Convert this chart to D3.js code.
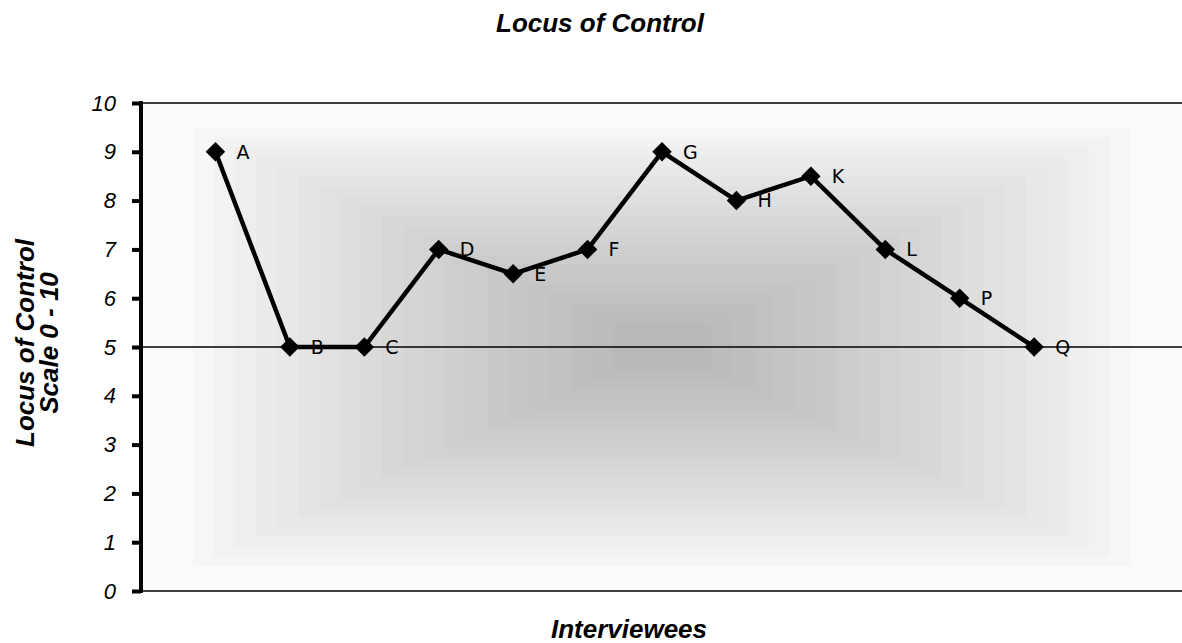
<!DOCTYPE html>
<html>
<head>
<meta charset="utf-8">
<script src="https://cdn.jsdelivr.net/npm/d3@7"></script>
<style>
  body { margin: 0; background: #fff; }
  svg { display: block; }
</style>
</head>
<body>
<svg id="chart" width="1182" height="643"></svg>
<script>
const labels = ['A', 'B', 'C', 'D', 'E', 'F', 'G', 'H', 'K', 'L', 'P', 'Q']
const positions = [1, 2, 3, 4, 5, 6, 7, 8, 9, 10, 11, 12]
const scores = [9, 5, 5, 7, 6.5, 7, 9, 8, 8.5, 7, 6, 5]
const yTicks = [0, 1, 2, 3, 4, 5, 6, 7, 8, 9, 10]
const midline = 5

const svg = d3.select('#chart')
const plotLeft = 141, plotRight = 1183, plotTop = 103, plotBottom = 591

const x = d3.scaleLinear().domain([0, 14]).range([plotLeft, plotRight])
const y = d3.scaleLinear().domain([0, 10]).range([plotBottom, plotTop])

// rectangular gradient background, banded
const bands = 22
const shade = d3.scaleLinear().domain([0, 1]).range(['#fbfbfb', '#b9b9b9'])
const pw = plotRight - plotLeft, ph = plotBottom - plotTop
const cx = plotLeft + pw / 2, cy = plotTop + ph / 2
const bg = svg.append('g')
d3.range(bands).forEach(i => {
  const t = i / (bands - 1)
  const inset = i === 0 ? 0 : 0.1 + (i - 1) / (bands - 2) * 0.805
  const hw = (pw / 2) * (1 - inset)
  const hh = (ph / 2) * (1 - inset)
  bg.append('rect')
    .attr('x', cx - hw)
    .attr('y', cy - hh)
    .attr('width', hw * 2)
    .attr('height', hh * 2)
    .attr('fill', shade(Math.pow(t, 0.85)))
})

// plot borders
svg.append('line')
  .attr('x1', plotLeft).attr('x2', plotRight)
  .attr('y1', plotTop).attr('y2', plotTop)
  .attr('stroke', '#000').attr('stroke-width', 1.5)
svg.append('line')
  .attr('x1', plotLeft).attr('x2', plotRight)
  .attr('y1', plotBottom).attr('y2', plotBottom)
  .attr('stroke', '#000').attr('stroke-width', 1.5)

// reference line at 5
svg.append('line')
  .attr('x1', plotLeft).attr('x2', plotRight)
  .attr('y1', y(midline)).attr('y2', y(midline))
  .attr('stroke', '#000').attr('stroke-width', 1.5)

// y axis
const yAxis = d3.axisLeft(y).tickValues(yTicks).tickSize(9).tickPadding(16)
const ya = svg.append('g')
  .attr('transform', 'translate(' + plotLeft + ',0)')
  .call(yAxis)
ya.select('.domain').remove()
ya.selectAll('.tick line').attr('stroke', '#000').attr('stroke-width', 4)
ya.selectAll('.tick text')
  .attr('fill', '#000')
  .style('font-family', 'Liberation Sans, Arial, sans-serif')
  .style('font-style', 'italic')
  .style('font-size', '22px')
ya.append('line')
  .attr('x1', 0).attr('x2', 0)
  .attr('y1', plotTop - 2).attr('y2', plotBottom + 2)
  .attr('stroke', '#000').attr('stroke-width', 4)

// series line
const data = labels.map((l, i) => ({ label: l, px: positions[i], v: scores[i] }))
const line = d3.line().x(d => x(d.px)).y(d => y(d.v))
svg.append('path')
  .datum(data)
  .attr('d', line)
  .attr('fill', 'none')
  .attr('stroke', '#000')
  .attr('stroke-width', 4.5)
  .attr('stroke-linejoin', 'miter')

// diamond markers
const diamond = d3.symbol().type(d3.symbolSquare).size(190)
svg.selectAll('.marker')
  .data(data)
  .enter()
  .append('path')
  .attr('class', 'marker')
  .attr('d', diamond)
  .attr('transform', d => 'translate(' + x(d.px) + ',' + y(d.v) + ') rotate(45)')
  .attr('fill', '#000')

// point labels
svg.selectAll('.pt-label')
  .data(data)
  .enter()
  .append('text')
  .attr('class', 'pt-label')
  .attr('x', d => x(d.px) + 21)
  .attr('y', d => y(d.v))
  .attr('dy', '0.36em')
  .style('font-family', 'DejaVu Sans, Verdana, sans-serif')
  .style('font-size', '19px')
  .text(d => d.label)

// titles
const titleStyle = sel => sel
  .style('font-family', 'Liberation Sans, Arial, sans-serif')
  .style('font-weight', 'bold')
  .style('font-style', 'italic')
  .style('font-size', '26px')
  .attr('text-anchor', 'middle')

svg.append('text')
  .attr('x', 600).attr('y', 32)
  .call(titleStyle)
  .text('Locus of Control')

svg.append('text')
  .attr('x', 629).attr('y', 638)
  .call(titleStyle)
  .text('Interviewees')

const yt = svg.append('text')
  .attr('transform', 'translate(34,343) rotate(-90)')
  .call(titleStyle)
yt.append('tspan').attr('x', 0).attr('dy', 0).text('Locus of Control')
yt.append('tspan').attr('x', 0).attr('dy', 24).text('Scale 0 - 10')
</script>
</body>
</html>
